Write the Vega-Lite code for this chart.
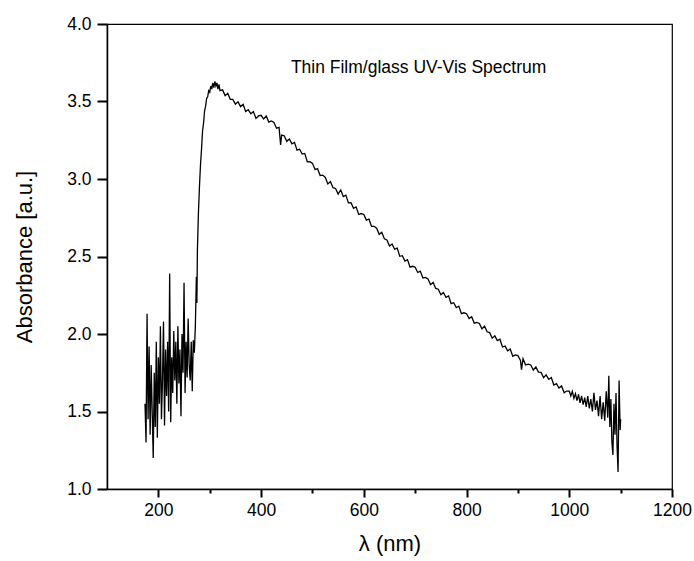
{
"$schema": "https://vega.github.io/schema/vega-lite/v6.json",
"width": 565, "height": 465,
"autosize": {"type": "none"},
"padding": {"left": 107, "top": 24, "right": 22, "bottom": 72},
"background": "white",
"config": {"view": {"stroke": "black", "strokeWidth": 1.2}, "font": "Liberation Sans"},
"datasets": {
"spec": [
{"wavelength":174,"absorbance":1.55},{"wavelength":176,"absorbance":1.30},{"wavelength":178,"absorbance":2.13},{"wavelength":180,"absorbance":1.45},{"wavelength":182,"absorbance":1.92},{"wavelength":184,"absorbance":1.35},{"wavelength":186,"absorbance":1.80},{"wavelength":188,"absorbance":1.50},{"wavelength":190,"absorbance":1.20},{"wavelength":192,"absorbance":1.75},{"wavelength":194,"absorbance":1.40},{"wavelength":196,"absorbance":1.95},{"wavelength":198,"absorbance":1.33},{"wavelength":200,"absorbance":1.85},{"wavelength":202,"absorbance":1.55},{"wavelength":204,"absorbance":2.05},{"wavelength":206,"absorbance":1.45},{"wavelength":208,"absorbance":1.70},{"wavelength":210,"absorbance":2.08},{"wavelength":212,"absorbance":1.41},{"wavelength":214,"absorbance":1.90},{"wavelength":216,"absorbance":1.60},{"wavelength":218,"absorbance":1.95},{"wavelength":220,"absorbance":1.50},{"wavelength":222,"absorbance":2.39},{"wavelength":224,"absorbance":1.43},{"wavelength":226,"absorbance":1.85},{"wavelength":228,"absorbance":1.62},{"wavelength":230,"absorbance":2.02},{"wavelength":232,"absorbance":1.70},{"wavelength":234,"absorbance":1.95},{"wavelength":236,"absorbance":1.55},{"wavelength":238,"absorbance":2.05},{"wavelength":240,"absorbance":1.68},{"wavelength":242,"absorbance":1.90},{"wavelength":244,"absorbance":1.47},{"wavelength":246,"absorbance":2.00},{"wavelength":248,"absorbance":1.75},{"wavelength":250,"absorbance":2.33},{"wavelength":252,"absorbance":1.62},{"wavelength":254,"absorbance":1.95},{"wavelength":256,"absorbance":1.72},{"wavelength":258,"absorbance":2.10},{"wavelength":260,"absorbance":1.80},{"wavelength":262,"absorbance":1.70},{"wavelength":264,"absorbance":1.95},{"wavelength":266,"absorbance":1.63},{"wavelength":268,"absorbance":1.96},{"wavelength":270,"absorbance":1.88},{"wavelength":272,"absorbance":2.05},{"wavelength":274,"absorbance":2.37},{"wavelength":275,"absorbance":2.20},{"wavelength":276,"absorbance":2.54},{"wavelength":278,"absorbance":2.78},{"wavelength":280,"absorbance":2.95},{"wavelength":282,"absorbance":3.09},{"wavelength":284,"absorbance":3.19},{"wavelength":286,"absorbance":3.31},{"wavelength":288,"absorbance":3.36},{"wavelength":290,"absorbance":3.44},{"wavelength":292,"absorbance":3.47},{"wavelength":294,"absorbance":3.52},{"wavelength":296,"absorbance":3.53},{"wavelength":298,"absorbance":3.57},{"wavelength":300,"absorbance":3.56},{"wavelength":302,"absorbance":3.60},{"wavelength":304,"absorbance":3.58},{"wavelength":306,"absorbance":3.62},{"wavelength":308,"absorbance":3.59},{"wavelength":310,"absorbance":3.63},{"wavelength":312,"absorbance":3.60},{"wavelength":314,"absorbance":3.62},{"wavelength":316,"absorbance":3.58},{"wavelength":318,"absorbance":3.61},{"wavelength":320,"absorbance":3.57},
{"wavelength":325,"absorbance":3.575},{"wavelength":330,"absorbance":3.538},{"wavelength":335,"absorbance":3.553},{"wavelength":340,"absorbance":3.514},{"wavelength":345,"absorbance":3.514},{"wavelength":350,"absorbance":3.483},{"wavelength":355,"absorbance":3.498},{"wavelength":360,"absorbance":3.467},{"wavelength":365,"absorbance":3.481},{"wavelength":370,"absorbance":3.436},{"wavelength":375,"absorbance":3.447},{"wavelength":380,"absorbance":3.421},{"wavelength":385,"absorbance":3.435},{"wavelength":390,"absorbance":3.391},{"wavelength":395,"absorbance":3.407},{"wavelength":400,"absorbance":3.411},{"wavelength":405,"absorbance":3.387},{"wavelength":410,"absorbance":3.406},{"wavelength":415,"absorbance":3.367},{"wavelength":420,"absorbance":3.375},{"wavelength":425,"absorbance":3.365},{"wavelength":430,"absorbance":3.328},{"wavelength":435,"absorbance":3.333},{"wavelength":438,"absorbance":3.22},{"wavelength":440,"absorbance":3.284},{"wavelength":445,"absorbance":3.279},{"wavelength":450,"absorbance":3.243},{"wavelength":455,"absorbance":3.258},{"wavelength":460,"absorbance":3.227},{"wavelength":465,"absorbance":3.236},{"wavelength":470,"absorbance":3.186},{"wavelength":475,"absorbance":3.192},{"wavelength":480,"absorbance":3.161},{"wavelength":485,"absorbance":3.165},{"wavelength":490,"absorbance":3.111},{"wavelength":495,"absorbance":3.112},{"wavelength":500,"absorbance":3.101},{"wavelength":505,"absorbance":3.062},{"wavelength":510,"absorbance":3.066},{"wavelength":515,"absorbance":3.022},{"wavelength":520,"absorbance":3.025},{"wavelength":525,"absorbance":3.010},{"wavelength":530,"absorbance":2.968},{"wavelength":535,"absorbance":2.983},{"wavelength":540,"absorbance":2.944},{"wavelength":545,"absorbance":2.939},{"wavelength":550,"absorbance":2.903},{"wavelength":555,"absorbance":2.930},{"wavelength":560,"absorbance":2.887},{"wavelength":565,"absorbance":2.896},{"wavelength":570,"absorbance":2.846},{"wavelength":575,"absorbance":2.847},{"wavelength":580,"absorbance":2.811},{"wavelength":585,"absorbance":2.820},{"wavelength":590,"absorbance":2.771},{"wavelength":595,"absorbance":2.777},{"wavelength":600,"absorbance":2.771},{"wavelength":605,"absorbance":2.735},{"wavelength":610,"absorbance":2.741},{"wavelength":615,"absorbance":2.695},{"wavelength":620,"absorbance":2.695},{"wavelength":625,"absorbance":2.683},{"wavelength":630,"absorbance":2.643},{"wavelength":635,"absorbance":2.656},{"wavelength":640,"absorbance":2.614},{"wavelength":645,"absorbance":2.607},{"wavelength":650,"absorbance":2.568},{"wavelength":655,"absorbance":2.581},{"wavelength":660,"absorbance":2.547},{"wavelength":665,"absorbance":2.554},{"wavelength":670,"absorbance":2.501},{"wavelength":675,"absorbance":2.505},{"wavelength":680,"absorbance":2.471},{"wavelength":685,"absorbance":2.480},{"wavelength":690,"absorbance":2.431},{"wavelength":695,"absorbance":2.437},{"wavelength":700,"absorbance":2.431},{"wavelength":705,"absorbance":2.397},{"wavelength":710,"absorbance":2.406},{"wavelength":715,"absorbance":2.362},{"wavelength":720,"absorbance":2.365},{"wavelength":725,"absorbance":2.355},{"wavelength":730,"absorbance":2.318},{"wavelength":735,"absorbance":2.333},{"wavelength":740,"absorbance":2.294},{"wavelength":745,"absorbance":2.289},{"wavelength":750,"absorbance":2.253},{"wavelength":755,"absorbance":2.268},{"wavelength":760,"absorbance":2.237},{"wavelength":765,"absorbance":2.246},{"wavelength":770,"absorbance":2.196},{"wavelength":775,"absorbance":2.202},{"wavelength":780,"absorbance":2.171},{"wavelength":785,"absorbance":2.180},{"wavelength":790,"absorbance":2.131},{"wavelength":795,"absorbance":2.137},{"wavelength":800,"absorbance":2.131},{"wavelength":805,"absorbance":2.100},{"wavelength":810,"absorbance":2.111},{"wavelength":815,"absorbance":2.070},{"wavelength":820,"absorbance":2.075},{"wavelength":825,"absorbance":2.068},{"wavelength":830,"absorbance":2.033},{"wavelength":835,"absorbance":2.051},{"wavelength":840,"absorbance":2.014},{"wavelength":845,"absorbance":2.009},{"wavelength":850,"absorbance":1.973},{"wavelength":855,"absorbance":1.988},{"wavelength":860,"absorbance":1.957},{"wavelength":865,"absorbance":1.966},{"wavelength":870,"absorbance":1.916},{"wavelength":875,"absorbance":1.922},{"wavelength":880,"absorbance":1.891},{"wavelength":885,"absorbance":1.903},{"wavelength":890,"absorbance":1.856},{"wavelength":895,"absorbance":1.865},{"wavelength":900,"absorbance":1.861},{"wavelength":905,"absorbance":1.830},{"wavelength":907,"absorbance":1.77},{"wavelength":910,"absorbance":1.841},{"wavelength":915,"absorbance":1.800},{"wavelength":920,"absorbance":1.805},{"wavelength":925,"absorbance":1.800},{"wavelength":930,"absorbance":1.768},{"wavelength":935,"absorbance":1.788},{"wavelength":940,"absorbance":1.754},{"wavelength":945,"absorbance":1.752},{"wavelength":950,"absorbance":1.718},{"wavelength":955,"absorbance":1.736},{"wavelength":960,"absorbance":1.707},{"wavelength":965,"absorbance":1.719},{"wavelength":970,"absorbance":1.671},{"wavelength":975,"absorbance":1.680},{"wavelength":980,"absorbance":1.651},{"wavelength":985,"absorbance":1.665},{"wavelength":990,"absorbance":1.621},{"wavelength":995,"absorbance":1.632},{"wavelength":1000,"absorbance":1.631},
{"wavelength":1003,"absorbance":1.60},{"wavelength":1006,"absorbance":1.63},{"wavelength":1009,"absorbance":1.585},{"wavelength":1012,"absorbance":1.615},{"wavelength":1015,"absorbance":1.57},{"wavelength":1018,"absorbance":1.61},{"wavelength":1021,"absorbance":1.555},{"wavelength":1024,"absorbance":1.60},{"wavelength":1027,"absorbance":1.545},{"wavelength":1030,"absorbance":1.59},{"wavelength":1033,"absorbance":1.53},{"wavelength":1036,"absorbance":1.60},{"wavelength":1039,"absorbance":1.52},{"wavelength":1042,"absorbance":1.58},{"wavelength":1045,"absorbance":1.50},{"wavelength":1048,"absorbance":1.62},{"wavelength":1051,"absorbance":1.51},{"wavelength":1054,"absorbance":1.57},{"wavelength":1057,"absorbance":1.47},{"wavelength":1060,"absorbance":1.60},{"wavelength":1063,"absorbance":1.45},{"wavelength":1066,"absorbance":1.56},{"wavelength":1069,"absorbance":1.44},{"wavelength":1072,"absorbance":1.63},{"wavelength":1075,"absorbance":1.46},{"wavelength":1077,"absorbance":1.73},{"wavelength":1079,"absorbance":1.40},{"wavelength":1081,"absorbance":1.58},{"wavelength":1083,"absorbance":1.30},{"wavelength":1085,"absorbance":1.22},{"wavelength":1087,"absorbance":1.55},{"wavelength":1089,"absorbance":1.35},{"wavelength":1091,"absorbance":1.62},{"wavelength":1093,"absorbance":1.28},{"wavelength":1095,"absorbance":1.11},{"wavelength":1097,"absorbance":1.70},{"wavelength":1099,"absorbance":1.38},{"wavelength":1100,"absorbance":1.45}
],
"label": [{"wavelength": 458, "absorbance": 3.684, "text": "Thin Film/glass UV-Vis Spectrum"}]
},
"layer": [
{
"data": {"name": "spec"},
"mark": {"type": "line", "color": "black", "strokeWidth": 1.3},
"encoding": {
"x": {"field": "wavelength", "type": "quantitative", "scale": {"domain": [100, 1200], "nice": false, "zero": false},
"axis": {"values": [200, 300, 400, 500, 600, 700, 800, 900, 1000, 1100, 1200], "format": "d", "labelExpr": "datum.value % 200 === 0 ? datum.label : ''", "title": "λ (nm)", "grid": false, "domainColor": "black", "domainWidth": 1.5, "ticks": true, "tickColor": "black", "tickWidth": 2, "tickSize": {"condition": {"test": "datum.value % 200 === 0", "value": 8}, "value": 4}, "labelFont": "Liberation Sans", "labelFontSize": 17.5, "labelColor": "black", "labelPadding": 4, "labelFlush": false, "labelOverlap": false, "titleFont": "Liberation Sans", "titleFontSize": 22, "titleFontWeight": "normal", "titleColor": "black", "titlePadding": 15}},
"y": {"field": "absorbance", "type": "quantitative", "scale": {"domain": [1, 4], "nice": false, "zero": false},
"axis": {"values": [1, 1.25, 1.5, 1.75, 2, 2.25, 2.5, 2.75, 3, 3.25, 3.5, 3.75, 4], "format": ".1f", "labelExpr": "datum.value % 0.5 === 0 ? datum.label : ''", "title": "Absorbance [a.u.]", "grid": false, "domainColor": "black", "domainWidth": 1.5, "ticks": true, "tickColor": "black", "tickWidth": 2, "tickSize": {"condition": {"test": "datum.value % 0.5 === 0", "value": 10}, "value": 5}, "labelFont": "Liberation Sans", "labelFontSize": 17.5, "labelColor": "black", "labelPadding": 6, "labelFlush": false, "labelOverlap": false, "titleFont": "Liberation Sans", "titleFontSize": 22, "titleFontWeight": "normal", "titleColor": "black", "titlePadding": 30}}
}
},
{
"data": {"name": "label"},
"mark": {"type": "text", "align": "left", "baseline": "alphabetic", "font": "Liberation Sans", "fontSize": 17.5, "color": "black"},
"encoding": {
"x": {"field": "wavelength", "type": "quantitative"},
"y": {"field": "absorbance", "type": "quantitative"},
"text": {"field": "text"}
}
}
]
}
